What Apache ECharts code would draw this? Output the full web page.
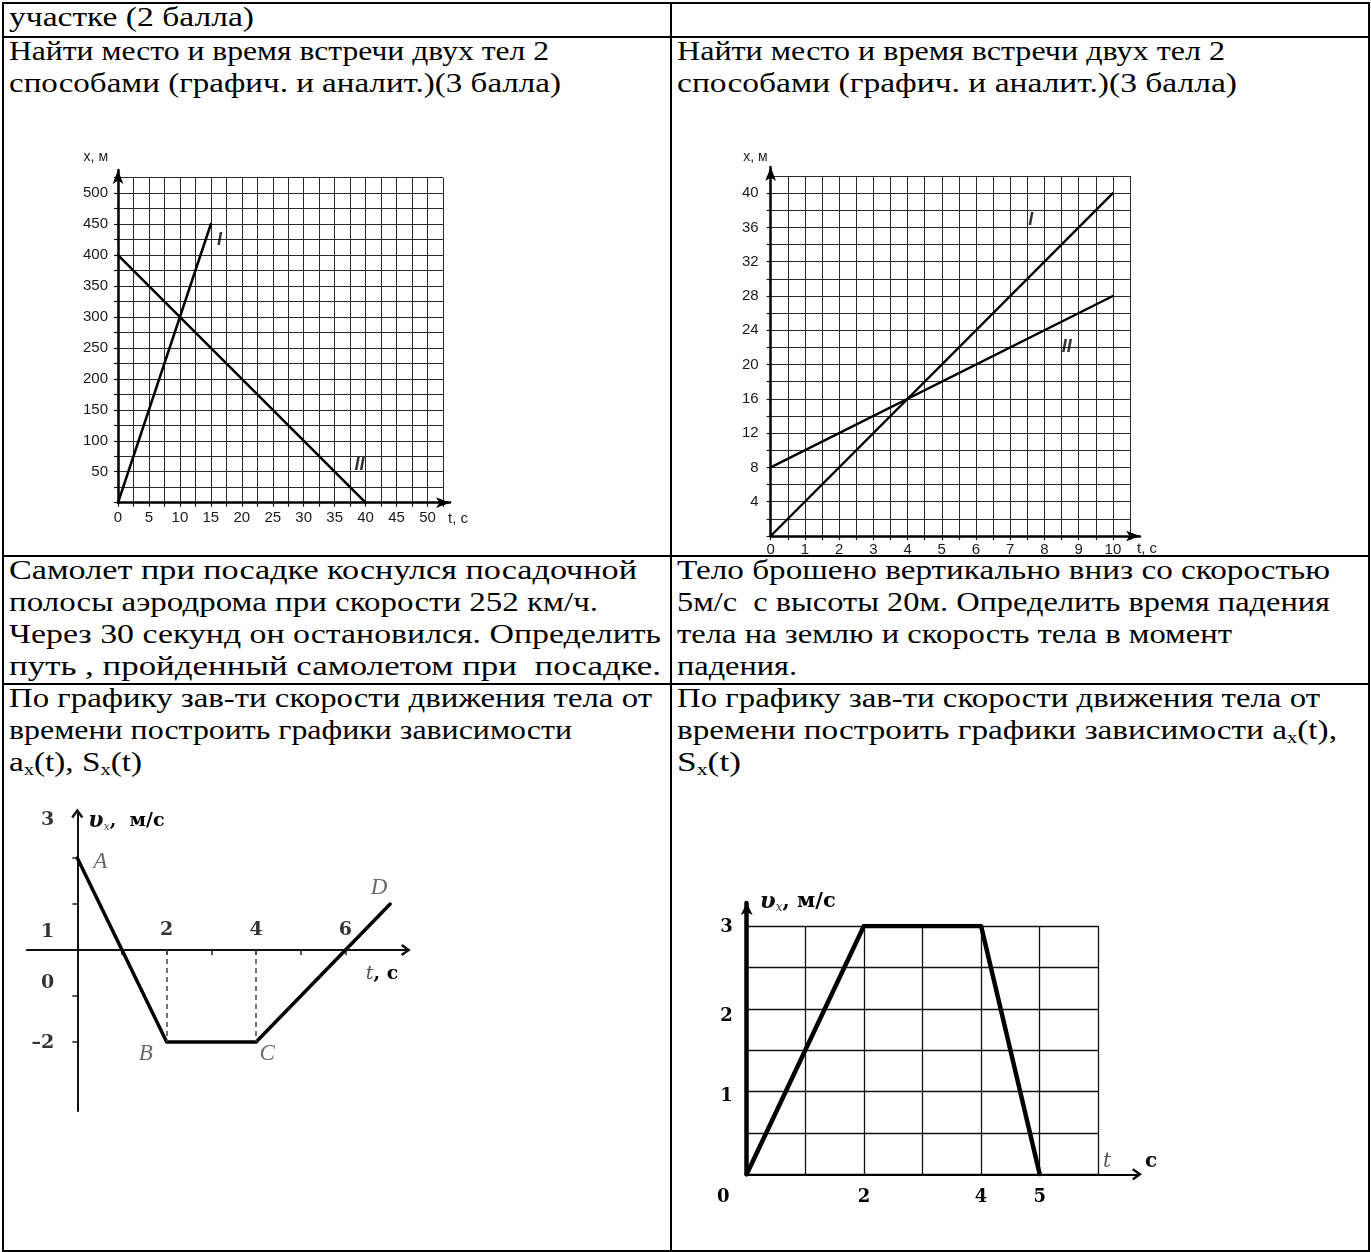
<!DOCTYPE html>
<html>
<head>
<meta charset="utf-8">
<script src="https://cdn.jsdelivr.net/npm/echarts@6/dist/echarts.min.js"></script>
<style>
  body { margin: 0; background: #fff; width: 1371px; height: 1252px; position: relative; overflow: hidden; }
  #sheet {
    position: absolute; left: 2px; top: 2px; width: 1366px;
    border-collapse: collapse; table-layout: fixed;
    font-family: "Liberation Serif", "Times New Roman", serif; font-size: 27.5px; line-height: 32px; color: #000;
  }
  #sheet td { border: 2px solid #000; vertical-align: top; padding: 0 0 0 5px; white-space: nowrap; }
  #sheet td > div { margin-top: -3px; }
  /* строки растянуты по ширине, как в документе; ширина в data-w */
  .ln { display: inline-block; transform-origin: 0 0; transform: scaleX(1.2); }
  #sheet sub { font-size: 62%; vertical-align: -0.22em; line-height: 0; }
  #page { position: absolute; left: 0; top: 0; width: 1371px; height: 1252px; }
</style>
</head>
<body>
<table id="sheet">
  <colgroup><col style="width:668px"><col style="width:698px"></colgroup>
  <tr style="height:34px"><td><div><span class="ln" data-w="245">участке (2 балла)</span></div></td><td></td></tr>
  <tr style="height:519px">
    <td><div><span class="ln" data-w="540">Найти место и время встречи двух тел 2</span><br><span class="ln" data-w="552">способами (графич. и аналит.)(3 балла)</span></div></td>
    <td><div><span class="ln" data-w="548">Найти место и время встречи двух тел 2</span><br><span class="ln" data-w="560">способами (графич. и аналит.)(3 балла)</span></div></td>
  </tr>
  <tr style="height:128px">
    <td><div><span class="ln" data-w="628">Самолет при посадке коснулся посадочной</span><br><span class="ln" data-w="589">полосы аэродрома при скорости 252 км/ч.</span><br><span class="ln" data-w="652">Через 30 секунд он остановился. Определить</span><br><span class="ln" data-w="652">путь , пройденный самолетом при&nbsp; посадке.</span></div></td>
    <td><div><span class="ln" data-w="653">Тело брошено вертикально вниз со скоростью</span><br><span class="ln" data-w="653">5м/с&nbsp; с высоты 20м. Определить время падения</span><br><span class="ln" data-w="555">тела на землю и скорость тела в момент</span><br><span class="ln" data-w="120">падения.</span></div></td>
  </tr>
  <tr style="height:567px">
    <td><div><span class="ln" data-w="643">По графику зав-ти скорости движения тела от</span><br><span class="ln" data-w="563">времени построить графики зависимости</span><br><span class="ln" data-w="133">a<sub>x</sub>(t), S<sub>x</sub>(t)</span></div></td>
    <td><div><span class="ln" data-w="643">По графику зав-ти скорости движения тела от</span><br><span class="ln" data-w="660">времени построить графики зависимости a<sub>x</sub>(t),</span><br><span class="ln" data-w="64">S<sub>x</sub>(t)</span></div></td>
  </tr>
</table>
<div id="page"></div>

<script>
// ---------- данные ----------
// график 1 (верх, слева): x, м от t, с
const c1Names = ['I', 'II'];
const c1T = [[0, 15], [0, 40]];
const c1X = [[0, 450], [400, 0]];
const c1TLabels = [0, 5, 10, 15, 20, 25, 30, 35, 40, 45, 50];
const c1XLabels = [50, 100, 150, 200, 250, 300, 350, 400, 450, 500];
const c1MarkT = [16.4, 39];
const c1MarkX = [424, 61];

// график 2 (верх, справа)
const c2Names = ['I', 'II'];
const c2T = [[0, 10], [0, 10]];
const c2X = [[0, 40], [8, 28]];
const c2TLabels = [0, 1, 2, 3, 4, 5, 6, 7, 8, 9, 10];
const c2XLabels = [4, 8, 12, 16, 20, 24, 28, 32, 36, 40];
const c2MarkT = [7.6, 8.65];
const c2MarkX = [36.9, 22.1];

// график 3 (низ, слева): vx, м/с от t, с
const c3Points = ['A', 'B', 'C', 'D'];
const c3T = [0, 2, 4, 7];
const c3V = [2, -2, -2, 1];
const c3TLabels = [2, 4, 6];
const c3TTicks = [1, 2, 3, 4, 5, 6];
const c3VTicks = [-2, -1, 1, 2];
// подписи оси стоят не на делениях - так на картинке
const c3VLabelText = ['3', '1', '0', '–2'];
const c3VLabelAt = [2.83, 0.38, -0.72, -2.03];

// график 4 (низ, справа)
const c4T = [0, 2, 4, 5];
const c4V = [0, 3, 3, 0];
const c4TLabels = [0, 2, 4, 5];
const c4VLabelAt = [2.98, 1.91, 0.94];

// ---------- текст таблицы: подгоняем ширину строк ----------
function fitLines() {
  document.querySelectorAll('.ln').forEach(el => {
    el.style.transform = 'none';
    const w = el.getBoundingClientRect().width;
    el.style.transform = 'scaleX(' + (Number(el.dataset.w) / w) + ')';
  });
}
fitLines();
if (document.fonts) document.fonts.ready.then(fitLines);

// ---------- оформление ----------
const SANS = 'Liberation Sans, Arial, sans-serif';
const SERIF = 'DejaVu Serif, serif';
const TIMES = 'Liberation Serif, serif';
const CHEVRON = 'path://M0,7 L5,0 L10,7 L8.4,8.2 L5,3.4 L1.6,8.2 Z';

// сетка в клетку (без осевых линий)
function cellAxis(grid, min, max, interval, labels, margin, tickLen, fontSize) {
  return {
    gridIndex: grid, type: 'value', min: min, max: max, interval: interval,
    axisLine: { show: false },
    axisTick: { show: tickLen > 0, length: tickLen, lineStyle: { color: '#111', width: 1.2 } },
    axisLabel: { customValues: labels, margin: margin, color: '#1a1a1a', fontFamily: SANS, fontSize: fontSize },
    splitLine: { show: true, lineStyle: { color: '#2a2a2a', width: 1 } }
  };
}
// только ось со стрелкой
function arrowAxis(grid, width, symbol, size, name, gap, nameStyle) {
  return {
    gridIndex: grid, type: 'value', min: 0, max: 1,
    axisLine: { show: true, onZero: false, symbol: ['none', symbol], symbolSize: size, lineStyle: { color: '#000', width: width } },
    axisTick: { show: false }, axisLabel: { show: false }, splitLine: { show: false },
    name: name, nameLocation: 'end', nameGap: gap, nameTextStyle: nameStyle
  };
}
function lineSeries(ax, ts, xs, w) {
  return {
    type: 'line', xAxisIndex: ax, yAxisIndex: ax, symbol: 'none', silent: true,
    lineStyle: { color: '#000', width: w, cap: 'round', join: 'round' },
    data: ts.map((t, i) => [t, xs[i]])
  };
}
function textSeries(ax, pts, label, layout) {
  return {
    type: 'scatter', xAxisIndex: ax, yAxisIndex: ax, symbolSize: 0, silent: true,
    data: pts, label: Object.assign({ show: true, formatter: p => p.value[2] }, label),
    labelLayout: layout
  };
}
const markLabel = { position: 'inside', color: '#000', fontFamily: SANS, fontStyle: 'italic', fontWeight: 'bold', fontSize: 18 };
const smallName = { fontFamily: SANS, fontSize: 14, color: '#222' };
const boldSerif = { fontFamily: SERIF, fontWeight: 'bold', color: '#000' };

// нижний левый график: где ось t и масштаб по v
const c3AxisY = 950;
const c3VMax = 2.97, c3VMin = -3.5, c3VUnit = 46;

const option = {
  animation: false,
  grid: [
    { left: 118, top: 177.7, width: 325, height: 325 },
    { left: 118, top: 170, width: 332, height: 332.7 },
    { left: 770.7, top: 176, width: 359.3, height: 360 },
    { left: 770.7, top: 167, width: 369.3, height: 369 },
    { left: 26.8, top: c3AxisY - c3VMax * c3VUnit, width: 379, height: (c3VMax - c3VMin) * c3VUnit },
    { left: 746.7, top: 926, width: 351.6, height: 248.3 },
    { left: 746.7, top: 903, width: 390.3, height: 271.3 }
  ].map(g => Object.assign({ outerBoundsMode: 'none', containLabel: false }, g)),
  xAxis: [
    cellAxis(0, 0, 52.5, 2.5, c1TLabels, 8, 4, 15),
    arrowAxis(1, 2.5, 'arrow', [8, 14], 't, с', -2,
      Object.assign({ align: 'left', verticalAlign: 'top', padding: [9, 0, 0, 0] }, smallName, { fontSize: 15 })),
    cellAxis(2, 0, 10.5, 0.5, c2TLabels, 6, 4, 15),
    arrowAxis(3, 2.5, 'arrow', [8, 14], 't, с', -3,
      Object.assign({ align: 'left', verticalAlign: 'top', padding: [5, 0, 0, 0] }, smallName, { fontSize: 15 })),
    {
      gridIndex: 4, type: 'value', min: -1.13, max: 7.35,
      axisLine: { onZero: true, symbol: ['none', CHEVRON], symbolSize: [12, 10], lineStyle: { color: '#111', width: 2 } },
      axisTick: { customValues: c3TTicks, length: 5, lineStyle: { color: '#222', width: 1.5 } },
      axisLabel: { show: false },
      splitLine: { show: false },
      name: '{t|t}{c|, с}', nameLocation: 'end', nameGap: -40,
      nameTextStyle: { align: 'left', verticalAlign: 'top', padding: [15, 0, 0, 0],
        rich: { t: { fontFamily: SERIF, fontStyle: 'italic', fontSize: 19, color: '#555' },
                c: Object.assign({ fontSize: 19 }, boldSerif) } }
    },
    {
      gridIndex: 5, type: 'value', min: 0, max: 6, interval: 1,
      axisLine: { show: false }, axisTick: { show: false },
      axisLabel: Object.assign({ customValues: c4TLabels, margin: 14, fontSize: 18,
                   formatter: v => v === 0 ? '{o|0}' : String(v),
                   rich: { o: Object.assign({ padding: [0, 47, 0, 0], fontSize: 18 }, boldSerif) } }, boldSerif),
      splitLine: { show: true, lineStyle: { color: '#111', width: 1.3 } }
    },
    arrowAxis(6, 2.2, CHEVRON, [12, 10], '{t|t}{gap|}{c|с}', -34,
      { align: 'left', verticalAlign: 'bottom', padding: [0, 0, 3, 0],
        rich: { t: { fontFamily: SERIF, fontStyle: 'italic', fontSize: 20, color: '#555' },
                gap: { width: 34 },
                c: Object.assign({ fontSize: 20 }, boldSerif) } })
  ],
  yAxis: [
    cellAxis(0, 0, 525, 25, c1XLabels, 10, 4, 15),
    arrowAxis(1, 2.5, 'arrow', [8, 14], 'x, м', 6,
      Object.assign({ align: 'right', verticalAlign: 'bottom', padding: [0, 10, 0, 0] }, smallName)),
    cellAxis(2, 0, 42, 2, c2XLabels, 12, 4, 15),
    arrowAxis(3, 2.5, 'arrow', [8, 14], 'x, м', 3,
      Object.assign({ align: 'right', verticalAlign: 'bottom', padding: [0, 3, 0, 0] }, smallName)),
    {
      gridIndex: 4, type: 'value', min: c3VMin, max: c3VMax,
      axisLine: { onZero: true, symbol: ['none', CHEVRON], symbolSize: [12, 10], lineStyle: { color: '#111', width: 2 } },
      axisTick: { customValues: c3VTicks, length: 5, lineStyle: { color: '#222', width: 1.5 } },
      axisLabel: { show: false },
      splitLine: { show: false },
      name: '{v|υ}{x|x}{n|,  м/с}', nameLocation: 'end', nameGap: -8,
      nameTextStyle: { align: 'left', verticalAlign: 'middle', padding: [0, 0, 0, 11],
        rich: { v: { fontFamily: SERIF, fontStyle: 'italic', fontWeight: 'bold', fontSize: 22, color: '#111' },
                x: { fontFamily: SERIF, fontStyle: 'italic', fontSize: 11, color: '#444', verticalAlign: 'bottom', padding: [8, 0, 0, 0] },
                n: Object.assign({ fontSize: 19 }, boldSerif) } }
    },
    {
      gridIndex: 5, type: 'value', min: 0, max: 3, interval: 0.5,
      axisLine: { show: false }, axisTick: { show: false },
      axisLabel: Object.assign({ customValues: c4VLabelAt, margin: 14, fontSize: 18,
                   formatter: v => String(Math.round(v)) }, boldSerif),
      splitLine: { show: true, lineStyle: { color: '#111', width: 1.3 } }
    },
    arrowAxis(6, 4.5, 'arrow', [9, 12], '{v|υ}{x|x}{n|, м/с}', 1,
      { align: 'left', verticalAlign: 'middle', padding: [0, 0, 0, 13],
        rich: { v: { fontFamily: SERIF, fontStyle: 'italic', fontWeight: 'bold', fontSize: 23, color: '#111' },
                x: { fontFamily: SERIF, fontStyle: 'italic', fontSize: 12, color: '#444', verticalAlign: 'bottom', padding: [8, 0, 0, 0] },
                n: Object.assign({ fontSize: 21 }, boldSerif) } })
  ],
  series: [
    lineSeries(0, c1T[0], c1X[0], 2.6),
    lineSeries(0, c1T[1], c1X[1], 2.6),
    textSeries(0, c1MarkT.map((t, i) => [t, c1MarkX[i], c1Names[i]]), markLabel),
    lineSeries(2, c2T[0], c2X[0], 2.4),
    lineSeries(2, c2T[1], c2X[1], 2.4),
    textSeries(2, c2MarkT.map((t, i) => [t, c2MarkX[i], c2Names[i]]), markLabel),
    Object.assign(lineSeries(4, c3T, c3V, 3.5), {
      markLine: {
        symbol: 'none', silent: true, label: { show: false },
        lineStyle: { type: [5, 4], color: '#444', width: 1.5 },
        data: [1, 2].map(i => [{ coord: [c3T[i], 0] }, { coord: [c3T[i], c3V[i]] }])
      }
    }),
    // буквы A, B, C, D у вершин
    textSeries(4, c3Points.map((n, i) => [c3T[i], c3V[i], n]),
      { position: 'inside', fontFamily: TIMES, fontStyle: 'italic', fontSize: 23, color: '#444' },
      p => {
        const off = [[23, 4], [-21, 12], [11, 12], [-11, -16]][p.dataIndex];
        return { dx: off[0], dy: off[1] };
      }),
    // подписи делений нижнего левого графика
    textSeries(4, c3TLabels.map(t => [t, 0, String(t)]),
      Object.assign({ position: 'inside', offset: [0, -20], fontSize: 19 }, boldSerif)),
    textSeries(4, c3VLabelAt.map((v, i) => [0, v, c3VLabelText[i]]),
      Object.assign({ position: 'left', distance: 23, fontSize: 19 }, boldSerif)),
    lineSeries(5, c4T, c4V, 4.5)
  ]
};

const chart = echarts.init(document.getElementById('page'));
chart.setOption(option);
</script>
</body>
</html>
